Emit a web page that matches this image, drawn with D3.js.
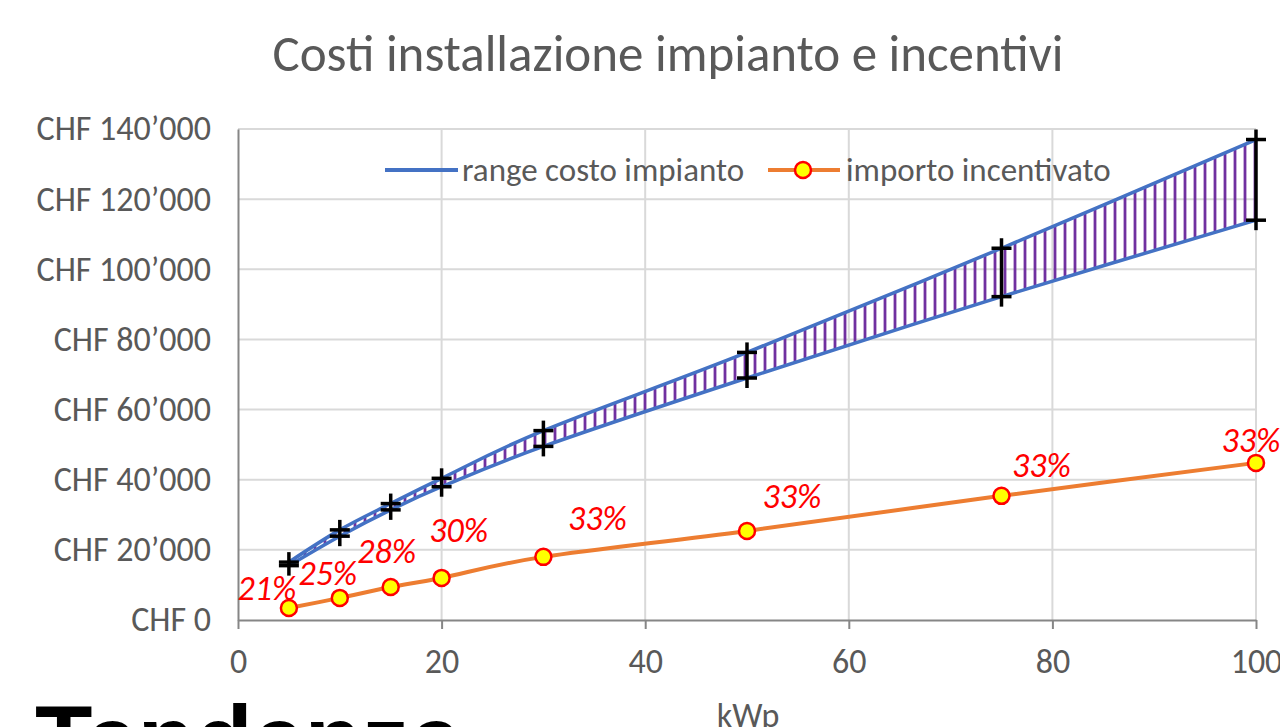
<!DOCTYPE html>
<html>
<head>
<meta charset="utf-8">
<script src="https://cdn.jsdelivr.net/npm/d3@7"></script>
<style>
  html, body { margin: 0; padding: 0; background: #fff; overflow: hidden; }
  svg { display: block; }
</style>
</head>
<body>
<svg id="chart" width="1280" height="727"></svg>
<script>
// ---- data ----
const kwp = [5, 10, 15, 20, 30, 50, 75, 100];
const costHigh = [16500, 25700, 33200, 40400, 54000, 76300, 106000, 137000];
const costLow = [15500, 23900, 31400, 38000, 49500, 69000, 92200, 114000];
const incentive = [3400, 6300, 9400, 12000, 18000, 25400, 35400, 44800];
const pctLabels = ["21%", "25%", "28%", "30%", "33%", "33%", "33%", "33%"];
const yTicks = [0, 20000, 40000, 60000, 80000, 100000, 120000, 140000];
const xTicks = [0, 20, 40, 60, 80, 100];
const titleText = "Costi installazione impianto e incentivi";
const xTitle = "kWp";
const legendLabels = ["range costo impianto", "importo incentivato"];

// ---- layout / style ----
const labelOffsets = [[-22, -8], [-12, -13], [-4, -24], [17, -36], [54, -27], [45, -23], [40, -19], [-5, -11]];
const FONT = "Carlito, Lato, 'Open Sans', sans-serif";
const GRAY = "#595959";
const svg = d3.select("#chart");
const x = d3.scaleLinear().domain([0, 100]).range([238, 1256]);
const y = d3.scaleLinear().domain([0, 140000]).range([620, 129]);

const fmt = v => "CHF " + (v === 0 ? "0" : d3.format(",")(v).replace(/,/g, "\u2019"));

// pattern for hatch
const defs = svg.append("defs");
const pat = defs.append("pattern").attr("id", "vhatch").attr("patternUnits", "userSpaceOnUse")
  .attr("width", 10).attr("height", 20);
pat.append("line").attr("x1", 5).attr("x2", 5).attr("y1", 0).attr("y2", 20)
  .attr("stroke", "#7030A0").attr("stroke-width", 2.8);

// title
svg.append("text").attr("x", 668).attr("y", 71).attr("text-anchor", "middle")
  .attr("font-family", FONT).attr("font-size", 51).attr("fill", GRAY).text(titleText);

// gridlines
const grid = svg.append("g");
grid.selectAll("line.h").data(yTicks.filter(d => d > 0)).join("line")
  .attr("x1", x(0)).attr("x2", x(100)).attr("y1", d => y(d)).attr("y2", d => y(d))
  .attr("stroke", "#D9D9D9").attr("stroke-width", 2);
grid.selectAll("line.v").data(xTicks.filter(d => d > 0)).join("line")
  .attr("x1", d => x(d)).attr("x2", d => x(d)).attr("y1", y(0)).attr("y2", y(140000))
  .attr("stroke", "#D9D9D9").attr("stroke-width", 2);

// y axis
const yAxis = svg.append("g").attr("transform", `translate(${x(0)},0)`)
  .call(d3.axisLeft(y).tickValues(yTicks).tickFormat(fmt).tickSize(0).tickPadding(27));
yAxis.select(".domain").attr("stroke", "#868686").attr("stroke-width", 2);
yAxis.selectAll("text").attr("font-family", FONT).attr("font-size", 34).attr("fill", GRAY);

// x axis
const xAxis = svg.append("g").attr("transform", `translate(0,${y(0)})`)
  .call(d3.axisBottom(x).tickValues(xTicks).tickSize(9).tickPadding(20).tickSizeOuter(0));
xAxis.select(".domain").attr("stroke", "#868686").attr("stroke-width", 2);
xAxis.selectAll(".tick line").attr("stroke", "#868686").attr("stroke-width", 2);
xAxis.selectAll("text").attr("font-family", FONT).attr("font-size", 34).attr("fill", GRAY);

svg.append("text").attr("x", 748).attr("y", 727).attr("text-anchor", "middle")
  .attr("font-family", FONT).attr("font-size", 34).attr("fill", GRAY).text(xTitle);

// range area
const curve = d3.curveCardinal.tension(0);
const idx = d3.range(kwp.length);
const area = d3.area().x(i => x(kwp[i])).y0(i => y(costLow[i])).y1(i => y(costHigh[i])).curve(curve);
svg.append("path").datum(idx).attr("d", area).attr("fill", "url(#vhatch)");
const lineHigh = d3.line().x(i => x(kwp[i])).y(i => y(costHigh[i])).curve(curve);
const lineLow = d3.line().x(i => x(kwp[i])).y(i => y(costLow[i])).curve(curve);
[lineHigh, lineLow].forEach(l => svg.append("path").datum(idx).attr("d", l)
  .attr("fill", "none").attr("stroke", "#4472C4").attr("stroke-width", 3.5));

// high-low lines and + markers
const hl = svg.append("g").attr("stroke", "#000").attr("stroke-width", 3.5);
hl.selectAll("line.hl").data(idx).join("line")
  .attr("x1", i => x(kwp[i])).attr("x2", i => x(kwp[i]))
  .attr("y1", i => y(costHigh[i]) - 10).attr("y2", i => y(costLow[i]) + 10);
const plusPts = idx.flatMap(i => [[kwp[i], costHigh[i]], [kwp[i], costLow[i]]]);
hl.selectAll("line.ph").data(plusPts).join("line")
  .attr("x1", d => x(d[0]) - 10).attr("x2", d => x(d[0]) + 10)
  .attr("y1", d => y(d[1])).attr("y2", d => y(d[1]));

// incentive line
const lineInc = d3.line().x(i => x(kwp[i])).y(i => y(incentive[i])).curve(curve);
svg.append("path").datum(idx).attr("d", lineInc).attr("fill", "none")
  .attr("stroke", "#ED7D31").attr("stroke-width", 4);
svg.selectAll("circle.inc").data(idx).join("circle")
  .attr("cx", i => x(kwp[i])).attr("cy", i => y(incentive[i])).attr("r", 8)
  .attr("fill", "#FFFF00").attr("stroke", "#FF0000").attr("stroke-width", 2.5);

// percentage labels
svg.selectAll("text.pct").data(idx).join("text")
  .attr("x", i => x(kwp[i]) + labelOffsets[i][0]).attr("y", i => y(incentive[i]) + labelOffsets[i][1])
  .attr("text-anchor", "middle").attr("font-family", FONT).attr("font-style", "italic")
  .attr("font-size", 34).attr("fill", "#FF0000").text(i => pctLabels[i]);

// legend
const lg = svg.append("g");
lg.append("line").attr("x1", 385).attr("x2", 458).attr("y1", 170).attr("y2", 170)
  .attr("stroke", "#4472C4").attr("stroke-width", 4);
lg.append("text").attr("x", 462).attr("y", 181).attr("font-family", FONT).attr("font-size", 33)
  .attr("fill", GRAY).text(legendLabels[0]);
lg.append("line").attr("x1", 768).attr("x2", 840).attr("y1", 170).attr("y2", 170)
  .attr("stroke", "#ED7D31").attr("stroke-width", 4);
lg.append("circle").attr("cx", 803).attr("cy", 170).attr("r", 8)
  .attr("fill", "#FFFF00").attr("stroke", "#FF0000").attr("stroke-width", 2.5);
lg.append("text").attr("x", 846).attr("y", 181).attr("font-family", FONT).attr("font-size", 33)
  .attr("fill", GRAY).text(legendLabels[1]);

// bottom heading
svg.append("text").attr("x", 35).attr("y", 772).attr("font-family", "'Liberation Sans', Arial, sans-serif")
  .attr("font-weight", "bold").attr("font-size", 94).attr("fill", "#000").text("Tendenze");
</script>
</body>
</html>
